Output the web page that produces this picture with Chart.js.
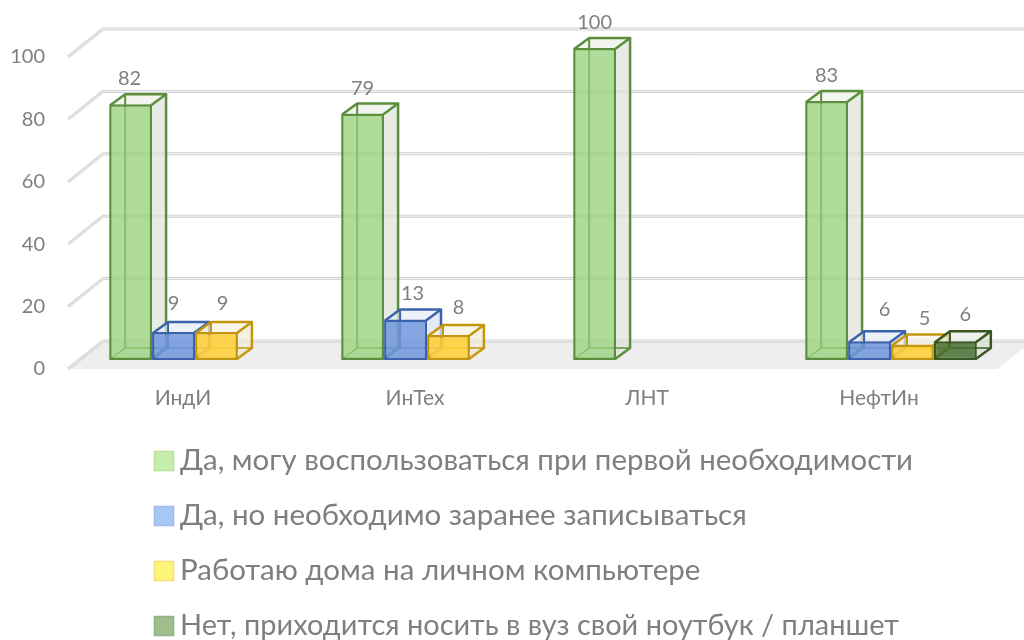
<!DOCTYPE html>
<html lang="ru">
<head>
<meta charset="utf-8">
<title>Chart</title>
<script src="https://cdn.jsdelivr.net/npm/chart.js@4/dist/chart.umd.min.js"></script>
<style>
  html, body { margin: 0; padding: 0; background: #fff; }
  canvas { display: block; }
</style>
</head>
<body>
<canvas id="chart" width="1024" height="640"></canvas>
<script>
// Data
const categories = ["ИндИ", "ИнТех", "ЛНТ", "НефтИн"];
const seriesNames = [
    "Да, могу воспользоваться при первой необходимости",
    "Да, но необходимо заранее записываться",
    "Работаю дома на личном компьютере",
    "Нет, приходится носить в вуз свой ноутбук / планшет"
];
const canUseAnytime = [82, 79, 100, 83];
const needBooking = [9, 13, null, 6];
const workAtHome = [9, 8, null, 5];
const ownLaptop = [null, null, null, 6];
const yTicks = [0, 20, 40, 60, 80, 100];

// Styles
const FONT = "Lato, 'Noto Sans', sans-serif";
const TEXT_COLOR = "#7f7f7f";
const styles = [
    { front: "rgba(150,208,120,0.75)", edge: "#5b8f3c", side: "rgba(222,226,216,0.7)", top: "rgba(236,241,230,0.7)", legend: "#c6efab", legendEdge: "#b6e09c" },
    { front: "rgba(112,150,222,0.85)", edge: "#3a62ad", side: "rgba(218,225,238,0.7)", top: "rgba(230,236,246,0.7)", legend: "#a8c8f5", legendEdge: "#9cbcec" },
    { front: "rgba(255,208,60,0.9)", edge: "#c4960e", side: "rgba(240,234,214,0.7)", top: "rgba(246,241,226,0.7)", legend: "#fff47a", legendEdge: "#f6dc72" },
    { front: "rgba(70,110,50,0.85)", edge: "#385723", side: "rgba(216,222,210,0.7)", top: "rgba(232,236,228,0.7)", legend: "#a0bd8e", legendEdge: "#94b182" }
];

// 3D layout, in pixels
const WALL = { dx: 36, dy: -28 };      // floor depth, front edge to back wall
const BAR_SHIFT = { x: 12, y: -9 };    // bars stand a bit behind the front edge
const BAR_DEPTH = { dx: 15, dy: -11 };
const LEGEND = { x: 154, y: 451, box: 20, step: 55, textX: 180, font: 29.5, maxWidths: [733, 570, 521, 719] };

// Manual label nudges [dataset][category], from the top middle of the front face
const labelNudges = [
    [[-1, -26], [0, -25], [0, -25], [0, -25]],
    [[0, -28], [7, -26], null, [15, -32]],
    [[6, -28], [10, -27], null, [12, -26]],
    [null, null, null, [10, -27]]
];

function polygon(ctx, points, fill) {
    ctx.beginPath();
    points.forEach((p, i) => i ? ctx.lineTo(p[0], p[1]) : ctx.moveTo(p[0], p[1]));
    ctx.closePath();
    ctx.fillStyle = fill;
    ctx.fill();
}

function polyline(ctx, points, color, width) {
    ctx.beginPath();
    points.forEach((p, i) => i ? ctx.lineTo(p[0], p[1]) : ctx.moveTo(p[0], p[1]));
    ctx.strokeStyle = color;
    ctx.lineWidth = width;
    ctx.lineJoin = "round";
    ctx.stroke();
}

const wallPlugin = {
    id: "wall",
    beforeDatasetsDraw(chart) {
        const { ctx, scales: { x, y } } = chart;
        const y0 = y.getPixelForValue(0);
        ctx.save();
        polygon(ctx, [[x.left, y0], [x.left + WALL.dx, y0 + WALL.dy], [x.right + WALL.dx + 2, y0 + WALL.dy], [x.right + 2, y0]], "#eeeeee");
        yTicks.forEach(v => {
            const py = y.getPixelForValue(v);
            const line = [[x.left + 1, py], [x.left + WALL.dx, py + WALL.dy], [x.right + WALL.dx + 2, py + WALL.dy]];
            polyline(ctx, line, "#d2d2d2", 3);
            polyline(ctx, line, "#f4f4f4", 1);
        });
        ctx.restore();
    }
};

// Chart.js paints the last dataset first, here the first one has to go under the others
const boxPlugin = {
    id: "box",
    beforeDatasetDraw() {
        return false;
    },
    afterDatasetsDraw(chart) {
        const ctx = chart.ctx;
        chart.data.datasets.forEach((dataset, i) => {
            const style = styles[i];
            chart.getDatasetMeta(i).data.forEach((bar, j) => {
                if (dataset.data[j] === null) return;
                const { x, y, base, width } = bar.getProps(["x", "y", "base", "width"], true);
                const l = x - width / 2 + 1, r = x + width / 2 - 1, t = y + 1, b = base - 1;
                const dx = BAR_DEPTH.dx, dy = BAR_DEPTH.dy;

                ctx.save();
                ctx.translate(BAR_SHIFT.x, BAR_SHIFT.y);
                polygon(ctx, [[r, t], [r + dx, t + dy], [r + dx, b + dy], [r, b]], style.side);
                polygon(ctx, [[l, t], [l + dx, t + dy], [r + dx, t + dy], [r, t]], style.top);
                polyline(ctx, [[l, b], [l + dx, b + dy], [r + dx, b + dy]], style.edge, 1.5);
                polyline(ctx, [[l + dx, b + dy], [l + dx, t + dy]], style.edge, 2);
                polyline(ctx, [[l, t], [l + dx, t + dy], [r + dx, t + dy], [r, t]], style.edge, 2.5);
                polyline(ctx, [[r + dx, t + dy], [r + dx, b + dy], [r, b]], style.edge, 2.5);
                bar.draw(ctx);
                ctx.restore();
            });
        });

        // value labels
        ctx.save();
        ctx.font = "20px " + FONT;
        ctx.fillStyle = TEXT_COLOR;
        ctx.textAlign = "center";
        ctx.textBaseline = "middle";
        chart.data.datasets.forEach((dataset, i) => {
            chart.getDatasetMeta(i).data.forEach((bar, j) => {
                if (dataset.data[j] === null) return;
                const { x, y } = bar.getProps(["x", "y"], true);
                const nudge = labelNudges[i][j];
                ctx.fillText(dataset.data[j], x + BAR_SHIFT.x + nudge[0], y + BAR_SHIFT.y + nudge[1]);
            });
        });
        ctx.restore();
    }
};

// Legend is a single left aligned column, tighter than the built-in one
const legendPlugin = {
    id: "columnLegend",
    afterDraw(chart) {
        const ctx = chart.ctx;
        ctx.save();
        ctx.font = LEGEND.font + "px " + FONT;
        ctx.textBaseline = "middle";
        chart.data.datasets.forEach((dataset, i) => {
            const top = LEGEND.y + i * LEGEND.step;
            ctx.fillStyle = styles[i].legend;
            ctx.strokeStyle = styles[i].legendEdge;
            ctx.lineWidth = 1.5;
            ctx.fillRect(LEGEND.x, top, LEGEND.box, LEGEND.box);
            ctx.strokeRect(LEGEND.x + 0.5, top + 0.5, LEGEND.box - 1, LEGEND.box - 1);
            ctx.fillStyle = TEXT_COLOR;
            ctx.fillText(dataset.label, LEGEND.textX, top + LEGEND.box / 2 - 1, LEGEND.maxWidths[i]);
        });
        ctx.restore();
    }
};

const valueSets = [canUseAnytime, needBooking, workAtHome, ownLaptop];

new Chart(document.getElementById("chart"), {
    type: "bar",
    data: {
        labels: categories,
        datasets: seriesNames.map((name, i) => ({
            label: name,
            data: valueSets[i],
            backgroundColor: styles[i].front,
            borderColor: styles[i].edge,
            borderWidth: 2.5,
            borderSkipped: false,
            barPercentage: 1,
            categoryPercentage: 0.74
        }))
    },
    options: {
        responsive: false,
        animation: false,
        layout: { padding: { top: 57, right: 29, bottom: 0, left: 0 } },
        plugins: {
            legend: { display: false },
            tooltip: { enabled: false }
        },
        scales: {
            x: {
                grid: { display: false },
                border: { display: false },
                ticks: { color: TEXT_COLOR, font: { family: FONT, size: 21 }, padding: 9 },
                afterFit: scale => { scale.height = 271; }
            },
            y: {
                min: 0,
                max: 100,
                grid: { display: false },
                border: { display: false },
                ticks: { stepSize: 20, color: TEXT_COLOR, font: { family: FONT, size: 20 }, padding: 14, labelOffset: 0 },
                afterFit: scale => { scale.width = 67; }
            }
        }
    },
    plugins: [wallPlugin, boxPlugin, legendPlugin]
});
</script>
</body>
</html>
